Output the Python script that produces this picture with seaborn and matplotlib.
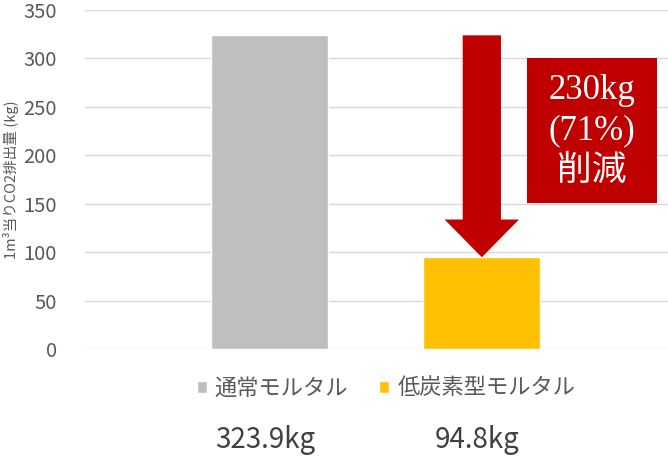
import matplotlib
matplotlib.use("Agg")
import matplotlib.pyplot as plt
import matplotlib.patches as mpatches
import matplotlib.transforms as mtransforms
import seaborn as sns

# data
categories = ["通常モルタル", "低炭素型モルタル"]
values = [323.9, 94.8]
value_labels = ["323.9kg", "94.8kg"]
bar_colors = ["#BFBFBF", "#FFC000"]
yticks = [0, 50, 100, 150, 200, 250, 300, 350]
reduction_text = "230kg\n(71%)\n削減"

sns.set_style("white")
plt.rcParams["font.family"] = ["Noto Sans CJK JP", "DejaVu Sans"]

fig = plt.figure(figsize=(6.68, 4.57), dpi=100)
ax = fig.add_axes([0.127, 0.236, 0.873, 0.742])

sns.barplot(x=categories, y=values, hue=categories, palette=bar_colors,
            width=0.55, saturation=1, legend=True, ax=ax)

ax.set_ylim(0, 350)
ax.set_xlim(-0.868, 1.876)
ax.set_yticks(yticks)
ax.yaxis.grid(True, color="#D9D9D9", linewidth=1)
ax.set_axisbelow(True)
for s in ax.spines.values():
    s.set_visible(False)
ax.set_xticks([])
ax.set_xlabel("")
ax.tick_params(axis="y", length=0, pad=20, labelsize=14.5, labelcolor="#595959")
ax.set_ylabel("1m³当りCO2排出量 (kg)", fontsize=10.5, color="#595959", labelpad=3)

# down arrow from the grey bar level to the yellow bar
arrow = mpatches.FancyArrow(1, values[0], 0, -(values[0] - values[1]),
                            width=0.18, head_width=0.35, head_length=39,
                            length_includes_head=True, color="#C00000", lw=0)
ax.add_patch(arrow)

# red box with the reduction
box = mpatches.Rectangle((1.212, 150.7), 0.612, 150.3, color="#C00000", lw=0)
ax.add_patch(box)
ax.text(1.518, 225, reduction_text, ha="center", va="center", color="white",
        fontsize=25, linespacing=1.3,
        family=["Liberation Serif", "Noto Sans CJK JP"])

# legend under the plot
handles, labels = ax.get_legend_handles_labels()
ax.legend(handles, labels, loc="center", bbox_to_anchor=(0.578, 0.151),
          bbox_transform=fig.transFigure, ncol=2, frameon=False,
          fontsize=16, labelcolor="#595959", handlelength=0.45,
          handleheight=0.45, handletextpad=0.35, columnspacing=1.4)

# totals under the legend
trans = mtransforms.blended_transform_factory(ax.transData, fig.transFigure)
for i, txt in enumerate(value_labels):
    ax.text(i - 0.02, 0.037, txt, transform=trans, ha="center", va="center",
            fontsize=20, color="#404040")

fig.savefig("out.png", dpi=100)
